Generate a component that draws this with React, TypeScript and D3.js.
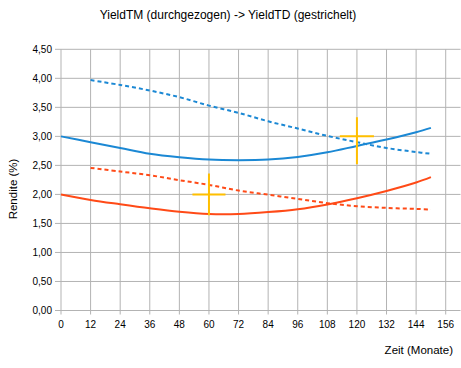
import React from "react";
import * as d3 from "d3";

const monthsSolid = [0, 12, 24, 36, 48, 60, 72, 84, 96, 108, 120, 132, 144, 150];
const blueSolid = [3.0, 2.9, 2.8, 2.7, 2.64, 2.6, 2.59, 2.6, 2.645, 2.725, 2.835, 2.945, 3.07, 3.146];
const redSolid = [2.0, 1.905, 1.83, 1.76, 1.7, 1.662, 1.662, 1.695, 1.745, 1.828, 1.935, 2.06, 2.205, 2.297];

const monthsDashed = [12, 24, 36, 48, 60, 72, 84, 96, 108, 120, 132, 144, 150];
const blueDashed = [3.97, 3.886, 3.79, 3.675, 3.53, 3.405, 3.26, 3.135, 3.008, 2.9, 2.8, 2.73, 2.7];
const redDashed = [2.457, 2.394, 2.33, 2.245, 2.164, 2.066, 1.995, 1.922, 1.85, 1.797, 1.768, 1.75, 1.74];

const crossX = [60, 120];
const crossY = [2.0, 3.0];
const crossUp = [0.36, 0.33];
const crossDown = [0.36, 0.48];
const crossHalfWidth = [6.7, 6.9];

const xTicks = [0, 12, 24, 36, 48, 60, 72, 84, 96, 108, 120, 132, 144, 156];
const yTicks = [0, 0.5, 1, 1.5, 2, 2.5, 3, 3.5, 4, 4.5];

const title = "YieldTM (durchgezogen) -> YieldTD (gestrichelt)";
const xTitle = "Zeit (Monate)";
const yTitle = "Rendite (%)";

const BLUE = "#1b88d4";
const RED = "#ff4a17";
const YELLOW = "#ffbf00";
const GRID = "#b3b3b3";
const FONT = "'Liberation Sans', Arial, sans-serif";

export default function App() {
  const W = 461;
  const H = 368;
  const x = d3.scaleLinear().domain([0, 162]).range([61, 460.5]);
  const y = d3.scaleLinear().domain([0, 4.5]).range([310.5, 49.3]);

  const line = d3
    .line<[number, number]>()
    .x((d) => x(d[0]))
    .y((d) => y(d[1]))
    .curve(d3.curveCatmullRom.alpha(0.5));

  const zip = (a: number[], b: number[]) => a.map((v, i) => [v, b[i]] as [number, number]);

  const series = [
    { d: zip(monthsDashed, blueDashed), c: BLUE, dash: "4,3" },
    { d: zip(monthsDashed, redDashed), c: RED, dash: "4,3" },
    { d: zip(monthsSolid, blueSolid), c: BLUE, dash: undefined },
    { d: zip(monthsSolid, redSolid), c: RED, dash: undefined },
  ];

  return (
    <svg
      width={W}
      height={H}
      style={{ position: "absolute", left: 0, top: 0, background: "#fff" }}
      fontFamily={FONT}
    >
      <rect x={0} y={0} width={W} height={H} fill="#fff" />
      <text x={228} y={19} textAnchor="middle" fontSize={12} fill="#000">
        {title}
      </text>
      {yTicks.map((t) => (
        <g key={"y" + t}>
          <line x1={55} x2={x(162)} y1={y(t)} y2={y(t)} stroke={GRID} strokeWidth={1} />
          <text x={52} y={y(t) + 3.5} textAnchor="end" fontSize={10} fill="#000">
            {d3.format(".2f")(t).replace(".", ",")}
          </text>
        </g>
      ))}
      {xTicks.map((t) => (
        <g key={"x" + t}>
          <line x1={x(t)} x2={x(t)} y1={y(4.5)} y2={y(0) + 4} stroke={GRID} strokeWidth={1} />
          <text x={x(t)} y={328} textAnchor="middle" fontSize={10} fill="#000">
            {t}
          </text>
        </g>
      ))}
      {series.map((s, i) => (
        <path
          key={i}
          d={line(s.d) || ""}
          fill="none"
          stroke={s.c}
          strokeWidth={2}
          strokeDasharray={s.dash}
        />
      ))}
      {crossX.map((cx, i) => (
        <g key={"c" + i}>
          <line
            x1={x(cx)}
            x2={x(cx)}
            y1={y(crossY[i] + crossUp[i])}
            y2={y(crossY[i] - crossDown[i])}
            stroke={YELLOW}
            strokeWidth={2}
          />
          <line
            x1={x(cx - crossHalfWidth[i])}
            x2={x(cx + crossHalfWidth[i])}
            y1={y(crossY[i])}
            y2={y(crossY[i])}
            stroke={YELLOW}
            strokeWidth={2}
          />
        </g>
      ))}
      <text x={453} y={354} textAnchor="end" fontSize={11.5} fill="#000">
        {xTitle}
      </text>
      <text
        transform={`translate(17,${189}) rotate(-90)`}
        textAnchor="middle"
        fontSize={11.5}
        fill="#000"
      >
        {yTitle}
      </text>
    </svg>
  );
}
